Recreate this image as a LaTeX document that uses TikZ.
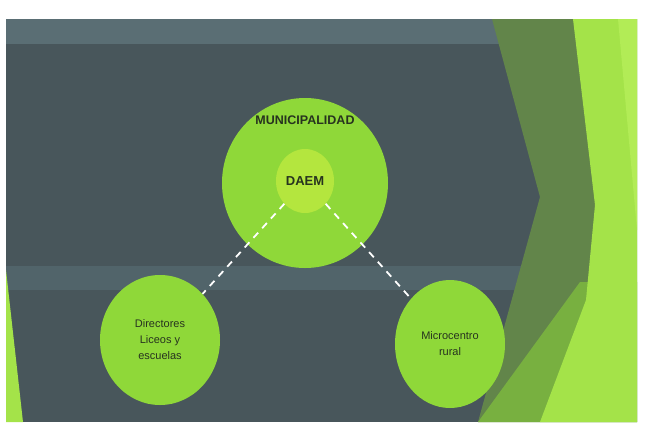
\documentclass[tikz,border=0pt]{standalone}
\usepackage{fontspec}
\setmainfont{Liberation Sans}
\usetikzlibrary{shapes.geometric}
\definecolor{slate}{HTML}{48565B}
\definecolor{slatetop}{HTML}{5A6E74}
\definecolor{slateband}{HTML}{51646A}
\definecolor{facetdark}{HTML}{62854A}
\definecolor{facetmid}{HTML}{78B040}
\definecolor{facetlime}{HTML}{A4E349}
\definecolor{facetlight}{HTML}{B2EC56}
\definecolor{bubblegreen}{HTML}{8FD839}
\definecolor{daemgreen}{HTML}{B4E63E}
\definecolor{ink}{HTML}{27331F}

\begin{document}
\begin{tikzpicture}[x=1pt, y=-1pt,
		bubble/.style={ellipse, fill=bubblegreen, inner sep=0pt, align=center, text=ink, font=\fontsize{11}{16}\selectfont},
		link/.style={draw=white, line width=1.8pt, dash pattern=on 7pt off 6pt}]
			\useasboundingbox (0,0) rectangle (651,424);
			\fill[slate] (6,19) rectangle (637,422);
			\fill[slatetop] (6,19) rectangle (637,44);
			\fill[slateband] (6,266) rectangle (637,290);
			\fill[facetdark] (492,19) -- (637,19) -- (637,422) -- (478,422) -- (540,197) -- cycle;
			\fill[facetmid] (478,422) -- (580,282) -- (637,282) -- (637,422) -- cycle;
			\fill[facetlime] (573,19) -- (637,19) -- (637,422) -- (540,422) -- (586,300) -- (595,205) -- cycle;
			\fill[facetlight] (618,19) -- (637,19) -- (637,230) -- cycle;
			\fill[facetlime] (6,270) -- (23,422) -- (6,422) -- cycle;
			\node[bubble, minimum width=166pt, minimum height=170pt] (muni) at (305,183) {};
			\node[font=\bfseries\fontsize{12.5}{14}\selectfont, text=ink] (munitext) at ([yshift=-22pt]muni.north) {MUNICIPALIDAD};
			\node[bubble, fill=daemgreen, minimum width=58pt, minimum height=64pt, font=\bfseries\fontsize{13}{15}\selectfont] (daem) at (305,181) {DAEM};
			\node[bubble, minimum width=120pt, minimum height=130pt] (dir) at (160,340) {Directores\\Liceos y\\escuelas};
			\node[bubble, minimum width=110pt, minimum height=128pt] (micro) at (450,344) {Microcentro\\rural};
			\draw[link] (daem.south west) -- (dir.north east);
			\draw[link] (daem.south east) -- (micro.north west);
		\end{tikzpicture}
\end{document}
